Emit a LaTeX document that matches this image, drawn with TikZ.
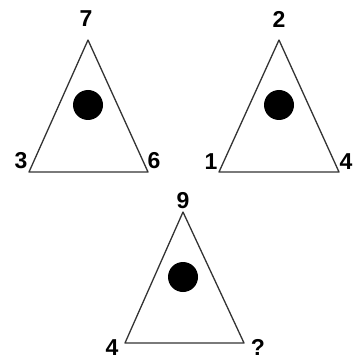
\documentclass[tikz,border=0pt]{standalone}
\usepackage{fontspec}
\setmainfont{Liberation Sans}
\usepackage{tikz}
\usetikzlibrary{positioning}

\begin{document}
\begin{tikzpicture}[x=1pt, y=-1pt,
      num/.style={font=\fontsize{23}{23}\selectfont\bfseries, inner sep=0pt},
      dot/.style={circle, fill=black, minimum size=30pt, inner sep=0pt},
      tri/.style={draw=black!80, line width=1.3pt, line join=round}
  ]
    \useasboundingbox (0,0) rectangle (353,363);
    % left triangle
    \coordinate (a1) at (88,40);
    \coordinate (b1) at (29,172);
    \coordinate (c1) at (148,172);
    \draw[tri] (a1) -- (b1) -- (c1) -- cycle;
    \node[dot] (d1) at (88,105) {};
    \node[num] (n7) at (86,19) {7};
    \node[num] (n3) at (21,161) {3};
    \node[num] (n6) at (154,161) {6};
    % right triangle
    \coordinate (a2) at (279,40);
    \coordinate (b2) at (219,172);
    \coordinate (c2) at (339,172);
    \draw[tri] (a2) -- (b2) -- (c2) -- cycle;
    \node[dot] (d2) at (279,105) {};
    \node[num] (n2) at (279,19) {2};
    \node[num] (n1) at (211,162) {1};
    \node[num] (n4) at (346,162) {4};
    % bottom triangle
    \coordinate (a3) at (183,212);
    \coordinate (b3) at (125,343);
    \coordinate (c3) at (244,343);
    \draw[tri] (a3) -- (b3) -- (c3) -- cycle;
    \node[dot] (d3) at (183,277) {};
    \node[num] (n9) at (183,201) {9};
    \node[num] (m4) at (112,348) {4};
    \node[num] (nq) at (258,347) {?};
  \end{tikzpicture}
\end{document}
